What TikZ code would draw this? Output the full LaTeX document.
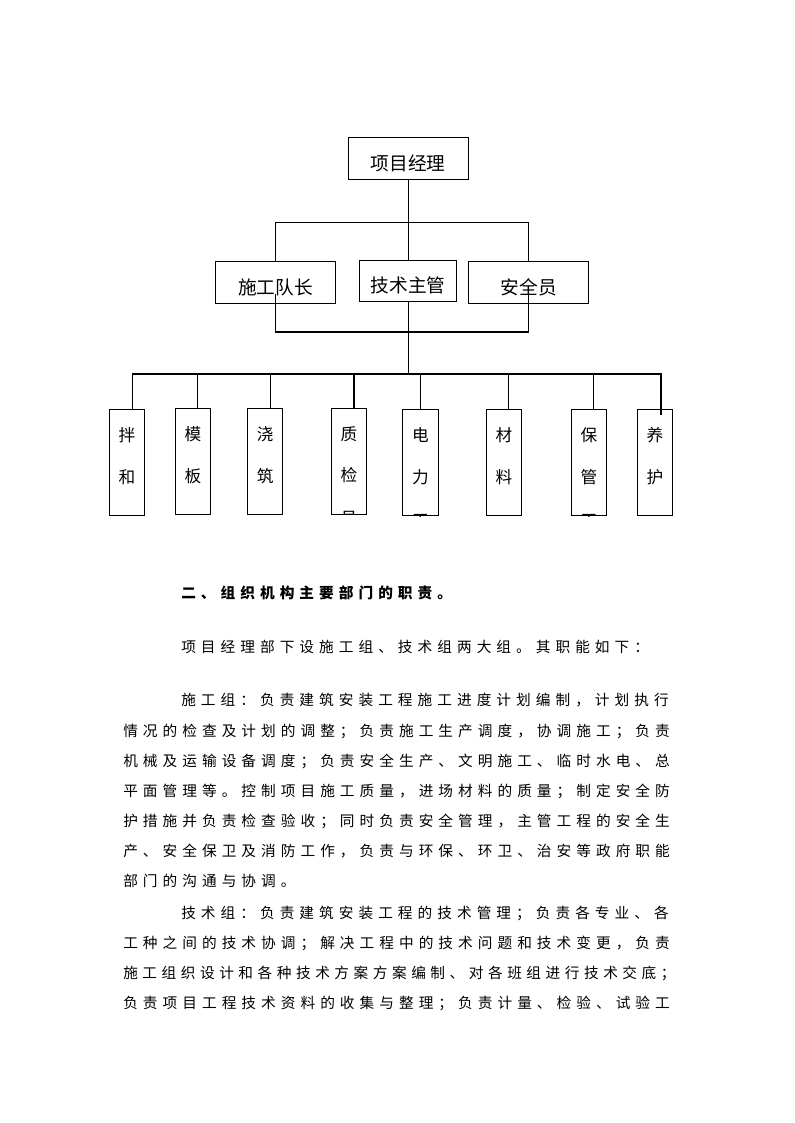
\documentclass[tikz,border=0pt]{standalone}
\usepackage{fontspec}
\newfontfamily\cjk{Noto Sans CJK SC}
\newcommand\charpitch{14.775pt}
\newcommand\spreadline[1]{\spreadnext#1\relax}
\newcommand\spreadnext[1]{\ifx\relax#1\else\makebox[\charpitch][l]{#1}\expandafter\spreadnext\fi}
\newcommand\colchars[3]{\vtop{\baselineskip=31.1pt\hbox{#1}\hbox{#2}\vskip1.2pt\hbox{#3}}}
\tikzset{
  orgbox/.style={draw,line width=0.8pt,inner sep=0pt,minimum height=31.5pt,font=\cjk\fontsize{14}{16}\selectfont,text height=18pt,text depth=0pt},
  colbox/.style={draw,line width=0.8pt,inner sep=0pt,anchor=north west,minimum width=26.6pt,minimum height=79.5pt},
  coltext/.style={font=\cjk\fontsize{12.5}{31.1}\selectfont,inner sep=0pt,anchor=base},
  orgline/.style={line width=0.8pt,draw=black},
  bodyline/.style={font=\cjk\fontsize{11}{13}\selectfont,anchor=base west,inner sep=0pt},
  headline/.style={bodyline,font=\cjk\bfseries\fontsize{11}{13}\selectfont}
}
\begin{document}
\begin{tikzpicture}[x=0.75pt,y=-0.75pt]
\useasboundingbox (0,0) rectangle (794,1123);
% chart
\node[orgbox,minimum width=90pt] (pm) at (408.3,158.3) {项目经理};
\node[orgbox,minimum width=89.5pt] (crew) at (275.6,282.3) {施工队长};
\node[orgbox,minimum width=72.7pt,minimum height=31.3pt] (tech) at (408.3,280.9) {技术主管};
\node[orgbox,minimum width=89.9pt] (safety) at (528.8,282.3) {安全员};
\node[colbox] (mix) at (108.7,409.3) {};
\node[colbox] (form) at (174.6,408.3) {};
\node[colbox] (pour) at (246.9,408.3) {};
\node[colbox] (qc) at (330.7,408) {};
\node[colbox] (elec) at (402.3,409.3) {};
\node[colbox] (mat) at (485.8,409.3) {};
\node[colbox] (store) at (570.7,409.3) {};
\node[colbox] (cure) at (636.7,409.3) {};
\foreach \n/\ca/\cb/\cc in {mix/拌/和/,form/模/板/,pour/浇/筑/,qc/质/检/员,elec/电/力/工,mat/材/料/,store/保/管/工,cure/养/护/}{
  \begin{scope}
    \clip (\n.south west) rectangle (\n.north east);
    \node[coltext] (\n-txt) at ([yshift=-24.2pt]\n.north) {\colchars{\ca}{\cb}{\cc}};
  \end{scope}
}
\coordinate (topbar) at (408.3,222.3);
\coordinate (midbar) at (408.3,332);
\coordinate (bus) at (408.3,374);
\draw[orgline] (pm.south) -- (tech.north);
\draw[orgline] (crew.north) |- (topbar) -| (safety.north);
\draw[orgline] ([yshift=7.5pt]crew.south) |- (midbar) -| ([yshift=7.5pt]safety.south);
\draw[orgline] (tech.south) -- (tech.south |- bus);
\draw[orgline] ([xshift=4.4pt]mix.north) |- (bus) -| ([xshift=4.5pt,yshift=-4.5pt]cure.north);
\foreach \n/\dx in {form/3.6pt,pour/3.75pt,qc/3.75pt,elec/0pt,mat/3.6pt,store/3.6pt}
  \draw[orgline] ([xshift=\dx]\n.north) -- ([xshift=\dx]\n.north |- bus);
% text
\node[headline] (head) at (181,598.6) {\spreadline{二、组织机构主要部门的职责。}};
\node[bodyline] (intro) at (181,652.6) {\spreadline{项目经理部下设施工组、技术组两大组。其职能如下：}};
\node[bodyline] (a1) at (181,705.6) {\spreadline{施工组：负责建筑安装工程施工进度计划编制，计划执行}};
\node[bodyline] (a2) at (123,736.6) {\spreadline{情况的检查及计划的调整；负责施工生产调度，协调施工；负责}};
\node[bodyline] (a3) at (123,766.6) {\spreadline{机械及运输设备调度；负责安全生产、文明施工、临时水电、总}};
\node[bodyline] (a4) at (123,796.6) {\spreadline{平面管理等。控制项目施工质量，进场材料的质量；制定安全防}};
\node[bodyline] (a5) at (123,826.6) {\spreadline{护措施并负责检查验收；同时负责安全管理，主管工程的安全生}};
\node[bodyline] (a6) at (123,856.6) {\spreadline{产、安全保卫及消防工作，负责与环保、环卫、治安等政府职能}};
\node[bodyline] (a7) at (123,886.6) {\spreadline{部门的沟通与协调。}};
\node[bodyline] (b1) at (181,918.6) {\spreadline{技术组：负责建筑安装工程的技术管理；负责各专业、各}};
\node[bodyline] (b2) at (123,948.6) {\spreadline{工种之间的技术协调；解决工程中的技术问题和技术变更，负责}};
\node[bodyline] (b3) at (123,978.6) {\renewcommand\charpitch{14.4pt}\spreadline{施工组织设计和各种技术方案方案编制、对各班组进行技术交底；}};
\node[bodyline] (b4) at (123,1008.6) {\spreadline{负责项目工程技术资料的收集与整理；负责计量、检验、试验工}};
\end{tikzpicture}
\end{document}
